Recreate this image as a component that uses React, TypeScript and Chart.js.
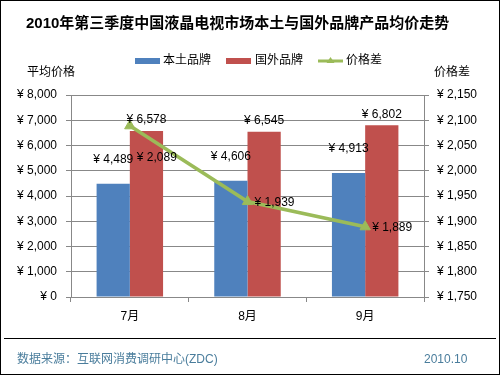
import React, { useEffect, useRef } from "react";
import { Chart, registerables } from "chart.js";

Chart.register(...registerables);

const categories = ["7月", "8月", "9月"];
const domesticPrices = [4489, 4606, 4913];
const foreignPrices = [6578, 6545, 6802];
const priceGaps = [2089, 1939, 1889];
const leftTicks = { min: 0, max: 8000, step: 1000 };
const rightTicks = { min: 1750, max: 2150, step: 50 };

const title = "2010年第三季度中国液晶电视市场本土与国外品牌产品均价走势";
const seriesNames = ["本土品牌", "国外品牌", "价格差"];
const leftAxisTitle = "平均价格";
const rightAxisTitle = "价格差";
const sourceText = "数据来源：互联网消费调研中心(ZDC)";
const dateText = "2010.10";

const BLUE = "#4F81BD";
const RED = "#C0504D";
const GREEN = "#9BBB59";
const GRID = "#888888";
const FONT = "'Liberation Sans', Arial, 'Noto Sans CJK SC', sans-serif";

const yen = (v: number) => "¥ " + Number(v).toLocaleString("en-US");

const decorPlugin = {
  id: "decor",
  beforeDraw(chart: any) {
    const ctx = chart.ctx;
    ctx.save();
    ctx.fillStyle = "#ffffff";
    ctx.fillRect(0, 0, chart.width, chart.height);
    ctx.restore();
  },
  afterDraw(chart: any) {
    const ctx = chart.ctx;
    ctx.save();
    // title
    ctx.fillStyle = "#000";
    ctx.font = `bold 15px ${FONT}`;
    ctx.textBaseline = "middle";
    ctx.textAlign = "left";
    ctx.fillText(title, 26, 24);

    // legend
    ctx.font = `12px ${FONT}`;
    ctx.fillStyle = BLUE;
    ctx.fillRect(135, 58, 25, 6);
    ctx.fillStyle = "#000";
    ctx.fillText(seriesNames[0], 163, 61);
    ctx.fillStyle = RED;
    ctx.fillRect(226, 58, 25, 6);
    ctx.fillStyle = "#000";
    ctx.fillText(seriesNames[1], 255, 61);
    ctx.strokeStyle = GREEN;
    ctx.lineWidth = 3;
    ctx.beginPath();
    ctx.moveTo(318, 61);
    ctx.lineTo(343, 61);
    ctx.stroke();
    ctx.fillStyle = GREEN;
    ctx.beginPath();
    ctx.moveTo(330.5, 57);
    ctx.lineTo(334.5, 63);
    ctx.lineTo(326.5, 63);
    ctx.closePath();
    ctx.fill();
    ctx.fillStyle = "#000";
    ctx.fillText(seriesNames[2], 346, 61);

    // axis titles
    ctx.fillText(leftAxisTitle, 27, 73);
    ctx.fillText(rightAxisTitle, 434, 73);

    // data labels
    const bar0 = chart.getDatasetMeta(0);
    const bar1 = chart.getDatasetMeta(1);
    const line = chart.getDatasetMeta(2);
    ctx.textAlign = "center";
    bar0.data.forEach((el: any, i: number) => {
      ctx.fillText(yen(domesticPrices[i]), el.x, el.y - 24);
    });
    bar1.data.forEach((el: any, i: number) => {
      ctx.fillText(yen(foreignPrices[i]), el.x, el.y - 11);
    });
    ctx.textAlign = "left";
    line.data.forEach((el: any, i: number) => {
      const dy = i === 0 ? 32 : 1;
      ctx.fillText(yen(priceGaps[i]), el.x + 7, el.y + dy);
    });

    // footer
    ctx.strokeStyle = "#000";
    ctx.lineWidth = 1;
    ctx.beginPath();
    ctx.moveTo(4, 338.5);
    ctx.lineTo(496, 338.5);
    ctx.stroke();
    ctx.fillStyle = "#4a7d9c";
    ctx.fillText(sourceText, 17, 360);
    ctx.fillText(dateText, 424, 360);

    // outer border
    ctx.strokeStyle = "#000";
    ctx.strokeRect(0.5, 0.5, chart.width - 1, chart.height - 1);
    ctx.restore();
  },
};

export default function App() {
  const ref = useRef<HTMLCanvasElement>(null);
  useEffect(() => {
    document.body.style.margin = "0";
    const chart = new Chart(ref.current as HTMLCanvasElement, {
      type: "bar",
      data: {
        labels: categories,
        datasets: [
          {
            type: "bar",
            label: seriesNames[0],
            data: domesticPrices,
            backgroundColor: BLUE,
            yAxisID: "y",
            categoryPercentage: 0.565,
            barPercentage: 1,
            order: 2,
          },
          {
            type: "bar",
            label: seriesNames[1],
            data: foreignPrices,
            backgroundColor: RED,
            yAxisID: "y",
            categoryPercentage: 0.565,
            barPercentage: 1,
            order: 2,
          },
          {
            type: "line",
            label: seriesNames[2],
            data: priceGaps,
            borderColor: GREEN,
            backgroundColor: GREEN,
            borderWidth: 3.5,
            pointStyle: "triangle",
            pointRadius: 6,
            pointBorderWidth: 1,
            yAxisID: "y1",
            order: 1,
          } as any,
        ],
      },
      options: {
        responsive: false,
        animation: false,
        layout: { padding: { top: 95, left: 0, right: 0, bottom: 0 } },
        plugins: {
          legend: { display: false },
          tooltip: { enabled: false },
          title: { display: false },
        },
        scales: {
          x: {
            offset: true,
            grid: {
              display: true,
              offset: true,
              drawOnChartArea: false,
              drawTicks: true,
              tickLength: 5,
              color: GRID,
            },
            border: { display: true, color: GRID },
            ticks: { color: "#000", font: { family: FONT, size: 12 }, padding: 7 },
            afterFit: (s: any) => {
              s.height = 78;
            },
          },
          y: {
            position: "left",
            min: leftTicks.min,
            max: leftTicks.max,
            grid: { color: GRID, tickLength: 5 },
            border: { display: true, color: GRID },
            ticks: {
              stepSize: leftTicks.step,
              color: "#000",
              font: { family: FONT, size: 12 },
              padding: 9,
              callback: (v: any) => yen(v),
            },
            afterFit: (s: any) => {
              s.width = 71;
            },
          },
          y1: {
            position: "right",
            min: rightTicks.min,
            max: rightTicks.max,
            grid: { drawOnChartArea: false, color: GRID, tickLength: 5 },
            border: { display: true, color: GRID },
            ticks: {
              stepSize: rightTicks.step,
              color: "#000",
              font: { family: FONT, size: 12 },
              padding: 8,
              callback: (v: any) => yen(v),
            },
            afterFit: (s: any) => {
              s.width = 76;
            },
          },
        },
      },
      plugins: [decorPlugin],
    });
    return () => chart.destroy();
  }, []);
  return (
    <div style={{ width: 500, height: 375 }}>
      <canvas ref={ref} width={500} height={375} />
    </div>
  );
}
